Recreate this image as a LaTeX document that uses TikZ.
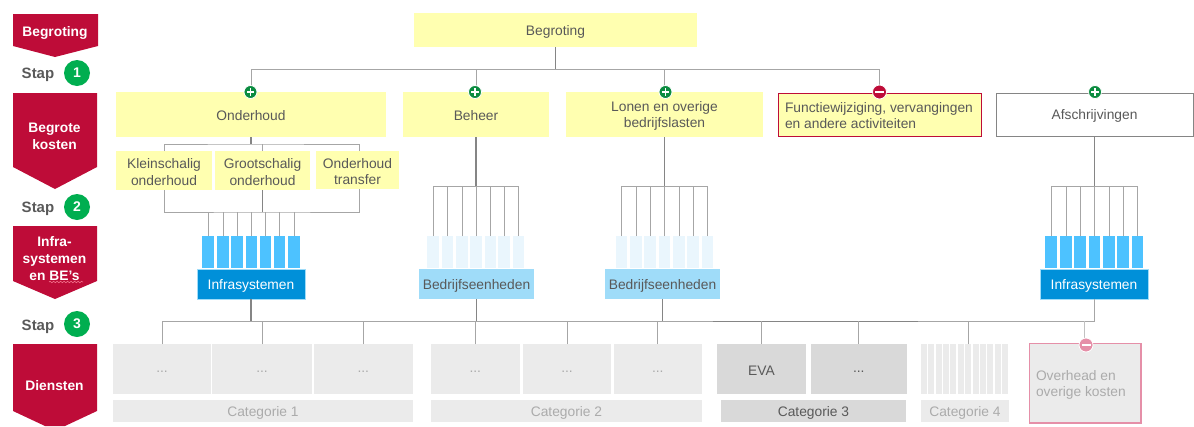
\documentclass[tikz,border=0pt]{standalone}
\usepackage{fontspec}
\setmainfont{Liberation Sans}
\usetikzlibrary{decorations.pathmorphing}
\definecolor{crim}{HTML}{BE0C38}
\definecolor{stepgreen}{HTML}{00AE50}
\definecolor{icongreen}{HTML}{0B8C40}
\definecolor{yel}{HTML}{FFFFB0}
\definecolor{txt}{HTML}{595959}
\definecolor{wire}{HTML}{A6A6A6}
\definecolor{wiredark}{HTML}{858585}
\definecolor{lgrey}{HTML}{EBEBEB}
\definecolor{mgrey}{HTML}{D9D9D9}
\definecolor{gtxt}{HTML}{ABABAB}
\definecolor{bluedark}{HTML}{0090D9}
\definecolor{bluemid}{HTML}{4DC2FF}
\definecolor{bluelight}{HTML}{9FDCF9}
\definecolor{bluepale}{HTML}{EAF6FD}
\definecolor{pinkred}{HTML}{E58FA8}
\definecolor{spell}{HTML}{F2708A}
\tikzset{
  x=1pt,y=-1pt,
  base/.style={inner sep=0pt,outer sep=0pt,align=center,font=\fontsize{13.8}{16.8}\selectfont,text=txt},
  yelbox/.style={base,fill=yel},
  redbox/.style={base,fill=yel,draw=crim,line width=1pt},
  whitebox/.style={base,fill=white,draw=wiredark,line width=1pt},
  infra/.style={base,fill=bluedark,draw=bluelight,line width=.6pt,text=white},
  bedrijf/.style={base,fill=bluelight},
  greybox/.style={base,fill=lgrey,text=gtxt},
  midbox/.style={base,fill=mgrey},
  overheadbox/.style={base,fill=lgrey,draw=pinkred,line width=1.1pt},
  wirel/.style={draw=wire,line width=1pt},
  trunk/.style={draw=wiredark,line width=1.4pt},
  darkwire/.style={draw=wiredark,line width=1pt},
  sidetext/.style={base,font=\fontsize{13.8}{16.8}\selectfont\bfseries,text=white},
  staptext/.style={base,font=\fontsize{15}{18}\selectfont\bfseries},
  stepnum/.style={circle,fill=stepgreen,minimum size=26pt,inner sep=0pt,outer sep=0pt,text=white,font=\fontsize{14}{16}\selectfont\bfseries},
  icon/.style={circle,minimum size=#1,inner sep=0pt,outer sep=0pt,draw=white,line width=.8pt},
}
% name x0 y0 x1 y1 style text
\newcommand{\bx}[7]{\node[#6,minimum width={((#4)-(#2))*1pt},minimum height={((#5)-(#3))*1pt}] (#1) at ({((#2)+(#4))/2},{((#3)+(#5))/2}) {};
  \node[#6,fill=none,draw=none,yshift=-1.5pt] (#1t) at (#1.center) {#7};}
\newcommand{\dotstxt}{\raisebox{-4.5pt}{...}}
% set name, fill, bus coordinate, list of centres
\newcommand{\barset}[4]{\foreach \cx [count=\ci] in {#4}{
  \node[base,fill=#2,minimum width=11.5pt,minimum height=32pt] (#1\ci) at (\cx,252) {};
  \draw[wirel] (#1\ci.north) -- (#1\ci.north |- #3);
}}
\newcommand{\plusicon}[2]{\node[icon=13pt,fill=icongreen] (#1) at #2 {};
  \draw[white,line width=1.4pt] ([xshift=-3.6pt]#1.center) -- ([xshift=3.6pt]#1.center);
  \draw[white,line width=1.4pt] ([yshift=-3.6pt]#1.center) -- ([yshift=3.6pt]#1.center);}
\newcommand{\minusicon}[3]{\node[icon=14pt,fill=#3] (#1) at #2 {};
  \draw[white,line width=1.4pt] ([xshift=-4.5pt]#1.center) -- ([xshift=4.5pt]#1.center);}
\begin{document}
\begin{tikzpicture}
\useasboundingbox (0,0) rectangle (1194,426);
% sidebar
\fill[crim] (13,14) -- (98,14) -- (98,46) -- (55,57) -- (13,46) -- cycle;
\fill[crim] (13,93) -- (97,93) -- (97,167) -- (55,189) -- (13,167) -- cycle;
\fill[crim] (13,226) -- (97,226) -- (97,281) -- (55,299) -- (13,281) -- cycle;
\fill[crim] (13,344) -- (97,344) -- (97,411) -- (65,426) -- (45,426) -- (13,411) -- cycle;
\node[sidetext] (s1) at (55,33) {Begroting};
\node[sidetext] (s2) at (54.5,136.5) {Begrote\\kosten};
\node[sidetext] (s3) at (54.5,258.5) {Infra-\\systemen\\en BE’s};
\node[sidetext] (s4) at (54.5,385.5) {Diensten};
\draw[spell,line width=.6pt,decorate,decoration={snake,amplitude=.7pt,segment length=3.5pt}] (49,282) -- (83,282);
\node[staptext] (st1) at (38,75) {Stap};
\node[staptext] (st2) at (38,209) {Stap};
\node[staptext] (st3) at (38,327) {Stap};
\node[stepnum] (n1) at (77,73) {1};
\node[stepnum] (n2) at (77,207) {2};
\node[stepnum] (n3) at (77,324) {3};
% budget
\bx{top}{414}{13}{697}{47}{yelbox}{Begroting}
\bx{ond}{116}{92}{386}{137}{yelbox}{Onderhoud}
\bx{beh}{403}{92}{549}{137}{yelbox}{Beheer}
\bx{lon}{566}{92}{763}{137}{yelbox}{Lonen en overige\\bedrijfslasten}
\bx{fun}{778.5}{93}{981}{136}{redbox}{}
\node[base,align=left,anchor=west] (funt) at (785,115.5) {Functiewijziging, vervangingen\\en andere activiteiten};
\bx{afs}{996}{93}{1193}{136}{whitebox}{Afschrijvingen}
\bx{kle}{116}{151}{212}{190}{yelbox}{Kleinschalig\\onderhoud}
\bx{gro}{215}{151}{310}{190}{yelbox}{Grootschalig\\onderhoud}
\bx{tra}{316}{151}{399}{189}{yelbox}{Onderhoud\\transfer}
% units
\bx{uA}{197}{269}{305}{299}{infra}{Infrasystemen}
\bx{uB}{419}{269}{534}{299}{bedrijf}{Bedrijfseenheden}
\bx{uC}{605}{269}{720}{299}{bedrijf}{Bedrijfseenheden}
\bx{uD}{1040}{269}{1148}{299}{infra}{Infrasystemen}
% services
\bx{d1}{113}{344}{211}{394}{greybox}{\dotstxt}
\bx{d2}{212}{344}{312}{394}{greybox}{\dotstxt}
\bx{d3}{313.5}{344}{413}{394}{greybox}{\dotstxt}
\bx{c1}{113}{400}{413}{422}{greybox}{Categorie 1}
\bx{d4}{431}{344}{519.5}{394}{greybox}{\dotstxt}
\bx{d5}{523}{344}{611}{394}{greybox}{\dotstxt}
\bx{d6}{613.5}{344}{702}{394}{greybox}{\dotstxt}
\bx{c2}{431}{400}{702}{422}{greybox}{Categorie 2}
\bx{d7}{717}{344}{806}{394}{midbox}{EVA}
\bx{d8}{811}{344}{906.5}{394}{midbox}{\dotstxt}
\bx{c3}{721}{400}{906}{422}{midbox}{Categorie 3}
\foreach \k in {0,...,11}{\bx{g\k}{921+\k*7.36}{344}{927+\k*7.36}{394}{greybox}{}}
\bx{c4}{921}{400}{1009}{422}{greybox}{Categorie 4}
\bx{ove}{1029.5}{343.5}{1141}{423}{overheadbox}{}
\node[base,text=gtxt,align=left,anchor=west] (ovet) at (1036,385) {Overhead en\\overige kosten};
% level coordinates
\coordinate (busTop) at (555.5,69);
\coordinate (busSub) at (250,144);
\coordinate (busLow) at (262,212);
\coordinate (busBeh) at (476,186);
\coordinate (busLon) at (664.5,186);
\coordinate (busAfs) at (1094.5,186);
\coordinate (busSvc) at (250,321);
\coordinate (traX) at (359.5,170);
\coordinate (ovX) at (1084,321);
% top tree
\draw[trunk] (top.south) -- (busTop);
\draw[wirel] (ond.north) |- (lon.north |- busTop) -- (lon.north);
\draw[wirel] (busTop) -| (fun.north);
\draw[wirel] (beh.north) -- (beh.north |- busTop);
% Onderhoud subtree
\draw[wirel] (kle.north) |- (busSub) -| (traX |- tra.north);
\draw[trunk] (ond.south) -- (ond.south |- busSub);
\draw[wirel] (gro.north) -- (gro.north |- busSub);
\draw[wirel] (kle.south) |- (busLow) -| (traX |- tra.south);
\draw[trunk] (gro.south) -- (gro.south |- busLow);
% bars and buses
\barset{bA}{bluemid}{busLow}{208,223,237,251.5,265.5,279.5,294}
\barset{bB}{bluepale}{busBeh}{433,447.5,462,476,490.5,504,518.5}
\barset{bC}{bluepale}{busLon}{621.5,636,650,664.5,679,693,707.5}
\barset{bD}{bluemid}{busAfs}{1051,1066,1080,1094.5,1109,1123,1137.5}
\draw[wirel] (bB1.north |- busBeh) -- (bB7.north |- busBeh);
\draw[wirel] (bC1.north |- busLon) -- (bC7.north |- busLon);
\draw[wirel] (bD1.north |- busAfs) -- (bD7.north |- busAfs);
\draw[trunk] (beh.south) -- (beh.south |- busBeh);
\draw[trunk] (lon.south) -- (lon.south |- busLon);
\draw[trunk] (afs.south) -- (afs.south |- busAfs);
% services bus
\draw[wirel] (d1.north) |- (uD.south |- busSvc) -- (uD.south);
\draw[darkwire] (d7.north |- busSvc) ++(-49,0) -- ++(205,0);
\foreach \u in {uA,uB,uC}{\draw[trunk] (\u.south) -- (\u.south |- busSvc);}
\foreach \d in {d2,d3,d4,d5,d6,d7,d8,g6}{\draw[wirel] (\d.north) -- (\d.north |- busSvc);}
\draw[draw=wire!70,line width=1pt] (ovX |- ove.north) -- (ovX);
% icons
\plusicon{p1}{(250.5,92)}
\plusicon{p2}{(475,92)}
\plusicon{p3}{(665.5,92)}
\minusicon{m1}{(879.5,92)}{crim}
\plusicon{p4}{(1095,92)}
\minusicon{m2}{(1086,345)}{pinkred}
\end{tikzpicture}
\end{document}
